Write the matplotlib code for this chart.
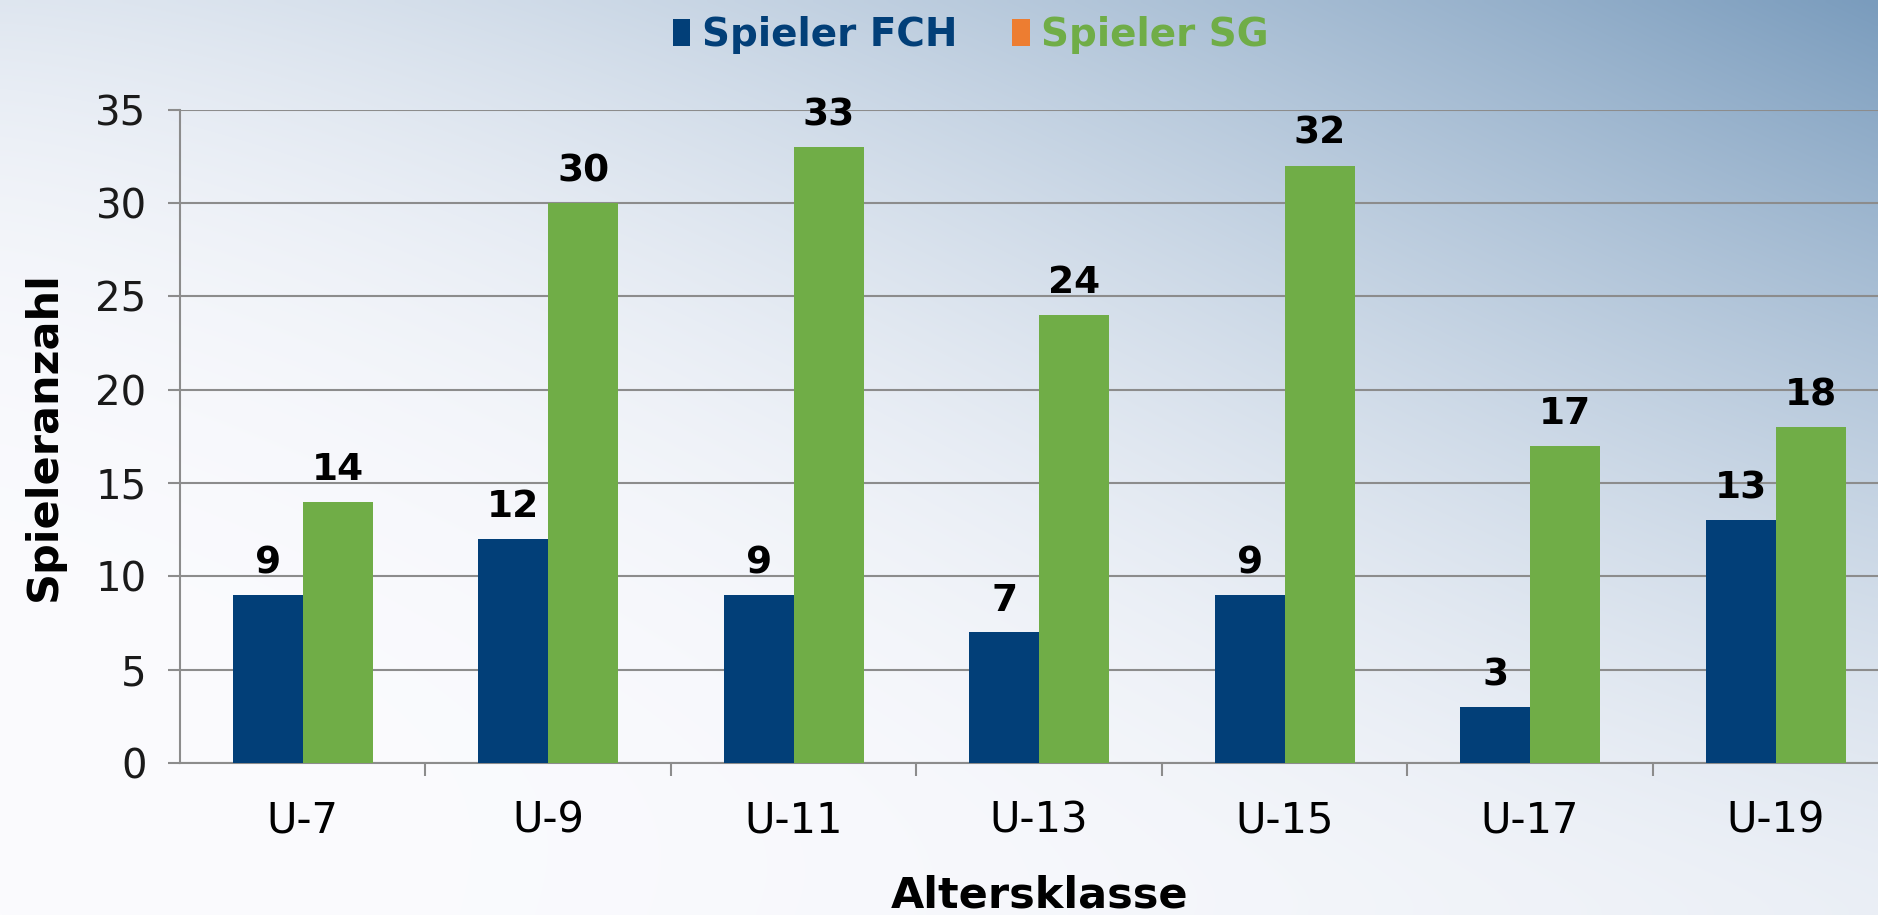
import numpy as np
import matplotlib
matplotlib.use("Agg")
import matplotlib.pyplot as plt
from matplotlib.patches import Patch

categories = ["U-7", "U-9", "U-11", "U-13", "U-15", "U-17", "U-19"]
spieler_fch = [9, 12, 9, 7, 9, 3, 13]
spieler_sg = [14, 30, 33, 24, 32, 17, 18]

COL_FCH = "#023f78"
COL_SG = "#70ad47"
COL_SG_MARK = "#ed7d31"
GRID = "#8c8c8c"


def background(w=400, h=200):
    # near-white base, blending into steel blue towards the top-right
    u = np.linspace(0, 1, w)[None, :]
    v = np.linspace(1, 0, h)[:, None]
    top = 0.22 + 0.78 * u ** 1.5
    k = 1.34 + 2.66 * (1 - u) ** 2
    wgt = top * v ** k + 0.13 * u ** 2 * (1 - v)
    base = np.array([0xfb, 0xfb, 0xfe]) / 255
    blue = np.array([0x7a, 0x9c, 0xbd]) / 255
    img = base * (1 - wgt[..., None]) + blue * wgt[..., None]
    return np.clip(img, 0, 1)


fig = plt.figure(figsize=(18.78, 9.15), dpi=100)
bg = fig.add_axes([0, 0, 1, 1], zorder=0)
bg.imshow(background(), aspect="auto", extent=[0, 1, 0, 1], interpolation="bilinear")
bg.axis("off")

ax = fig.add_axes([0.0958, 0.166, 0.915, 0.714], zorder=1)
ax.patch.set_alpha(0)

x = np.arange(len(categories))
w = 0.285
b1 = ax.bar(x - w / 2, spieler_fch, w, color=COL_FCH, zorder=3)
b2 = ax.bar(x + w / 2, spieler_sg, w, color=COL_SG, zorder=3)
for cont in (b1, b2):
    ax.bar_label(cont, padding=10, fontsize=27, fontweight="bold", color="black")

ax.set_xlim(-0.5, len(categories) - 0.5)
ax.set_ylim(0, 35)
ax.set_yticks(range(0, 36, 5))
ax.yaxis.grid(True, color=GRID, lw=1.5, zorder=0)
ax.set_axisbelow(True)

ax.set_xticks(x)
ax.set_xticklabels(categories)
ax.set_xticks(np.arange(0.5, len(categories) - 0.5, 1), minor=True)
ax.tick_params(axis="x", which="major", length=0, pad=26, labelsize=30, labelcolor="black")
ax.tick_params(axis="x", which="minor", length=9, width=1.5, color=GRID, direction="out")
ax.tick_params(axis="y", length=9, width=1.5, color=GRID, labelsize=29, labelcolor="#1a1a1a", pad=15)

for side in ("top", "right"):
    ax.spines[side].set_visible(False)
for side in ("left", "bottom"):
    ax.spines[side].set_color(GRID)
    ax.spines[side].set_linewidth(1.5)

ax.set_ylabel("Spieleranzahl", fontsize=31, fontweight="bold", labelpad=22)
ax.set_xlabel("Altersklasse", fontsize=31, fontweight="bold", labelpad=24)

handles = [Patch(facecolor=COL_FCH, edgecolor="none"),
           Patch(facecolor=COL_SG_MARK, edgecolor="none")]
leg = fig.legend(handles, ["Spieler FCH", "Spieler SG"], loc="center",
                 bbox_to_anchor=(0.517, 0.962), ncol=2, frameon=False,
                 prop={"size": 28, "weight": "bold"},
                 handlelength=0.45, handleheight=0.7, handletextpad=0.3,
                 columnspacing=1.4)
for txt, col in zip(leg.get_texts(), [COL_FCH, COL_SG]):
    txt.set_color(col)

fig.savefig("out.png", dpi=100)
